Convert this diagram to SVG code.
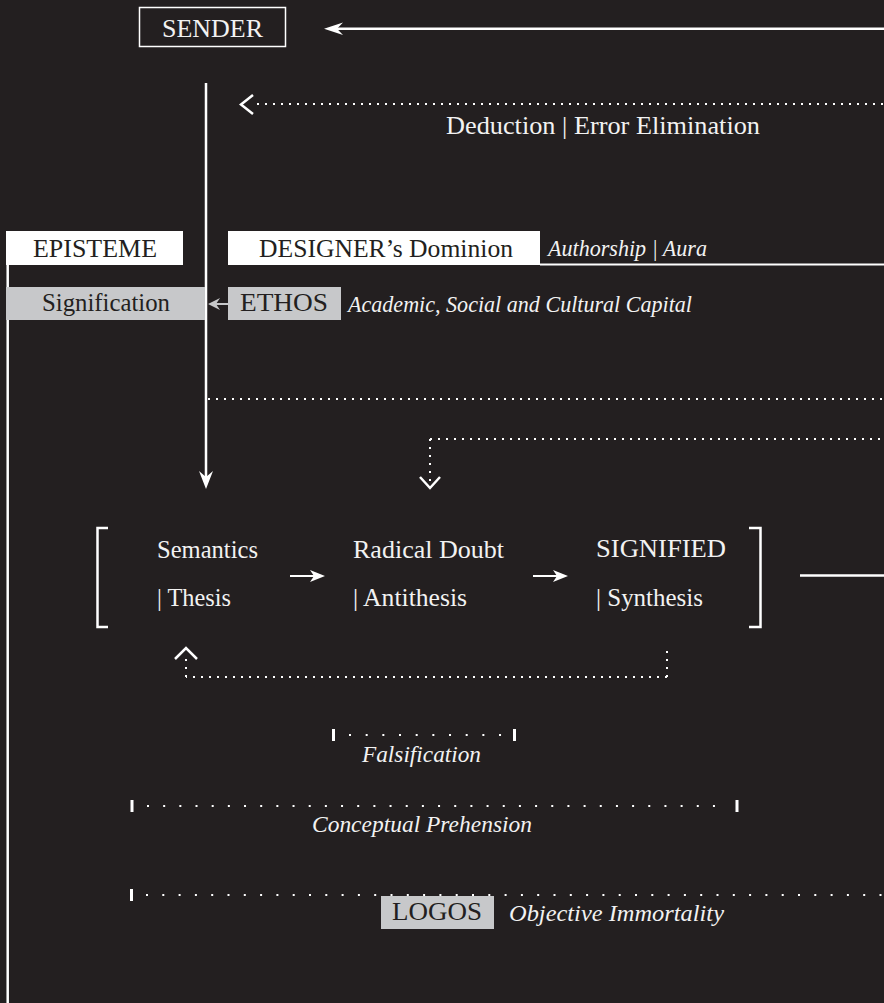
<svg xmlns="http://www.w3.org/2000/svg" width="884" height="1003" viewBox="0 0 884 1003">
<style>
text{font-family:'Liberation Serif','Times New Roman',serif;font-size:25px;fill:#f2f2f2}
text.d{fill:#231f20}
text.it{font-style:italic;font-size:24px}
.solid{stroke:#fff;stroke-width:2.5;fill:none}
.thin{stroke:#fff;stroke-width:2;fill:none}
.dot{stroke:#fff;stroke-width:2;fill:none;stroke-dasharray:2 6}
.head{fill:#fff}
.chev{stroke:#fff;stroke-width:2.5;fill:none}
.tick{fill:#fff}
.bw{fill:#fff}
.bg{fill:#c7c8ca}
</style>
<rect width="884" height="1003" fill="#231f20"/>
<g id="connectors">
  <line class="solid" x1="884" y1="28.8" x2="336" y2="28.8"/>
  <path class="head" d="M324,28.8 L343,22.5 L337,28.8 L343,35 Z"/>
  <line class="solid" x1="206" y1="83" x2="206" y2="478"/>
  <path class="head" d="M206,489 L199,471 L206,477 L213,471 Z"/>
  <path class="dot" d="M257,104 H884"/>
  <path class="chev" d="M253,95 L241,104.5 L253,114"/>
  <line class="thin" x1="540" y1="264.5" x2="884" y2="264.5"/>
  <line class="solid" x1="7.7" y1="265" x2="7.7" y2="1003"/>
  <line x1="215" y1="304" x2="228" y2="304" stroke="#c7c8ca" stroke-width="2"/>
  <path fill="#c7c8ca" d="M208,304 L220,298 L216,304 L220,310 Z"/>
  <path class="dot" d="M208,399 H884"/>
  <path class="dot" d="M430,439 H884"/>
  <path class="dot" d="M430,439 V484"/>
  <path class="chev" d="M420,477 L430,488 L440,477"/>
  <line class="thin" x1="290" y1="576" x2="314" y2="576"/>
  <path class="head" d="M325,576 L310,570 L314,576 L310,582 Z"/>
  <line class="thin" x1="533" y1="576" x2="557" y2="576"/>
  <path class="head" d="M568,576 L553,570 L557,576 L553,582 Z"/>
  <line class="solid" x1="800" y1="575.5" x2="884" y2="575.5"/>
  <path class="dot" d="M667,677 V651"/>
  <path class="dot" d="M667,677 H186"/>
  <path class="dot" d="M186,677 V656"/>
  <path class="chev" d="M175,659 L186,648 L197,659"/>
  <rect class="tick" x="332" y="729" width="3" height="12"/>
  <rect class="tick" x="513" y="729" width="3" height="12"/>
  <path class="thin" d="M349,735 H512" stroke-dasharray="2 14.67"/>
  <rect class="tick" x="130.5" y="800" width="3" height="12"/>
  <rect class="tick" x="735.5" y="800" width="3" height="12"/>
  <path class="thin" d="M147,806 H716" stroke-dasharray="2 14.17"/>
  <rect class="tick" x="130" y="889" width="3" height="12"/>
  <path class="thin" d="M146,895 H884" stroke-dasharray="2 14.3"/>
</g>
<g id="sender">
  <rect x="139.5" y="7.5" width="146" height="39" fill="none" stroke="#fff" stroke-width="1.5"/>
  <text x="162" y="37" textLength="101" lengthAdjust="spacingAndGlyphs">SENDER</text>
</g>
<g id="deduction">
  <text x="446" y="134" textLength="314" lengthAdjust="spacingAndGlyphs">Deduction | Error Elimination</text>
</g>
<g id="episteme">
  <rect class="bw" x="6" y="231" width="177" height="34"/>
  <text class="d" x="33" y="257" textLength="124" lengthAdjust="spacingAndGlyphs">EPISTEME</text>
</g>
<g id="designer">
  <rect class="bw" x="228" y="231" width="312" height="34"/>
  <text class="d" x="259" y="257" textLength="254" lengthAdjust="spacingAndGlyphs">DESIGNER’s Dominion</text>
  <text class="it" x="548" y="256" textLength="159" lengthAdjust="spacingAndGlyphs">Authorship | Aura</text>
</g>
<g id="signification">
  <rect class="bg" x="6" y="287" width="199" height="33"/>
  <text class="d" x="42" y="311" textLength="128" lengthAdjust="spacingAndGlyphs">Signification</text>
</g>
<g id="ethos">
  <rect class="bg" x="228" y="287" width="113" height="33"/>
  <text class="d" x="240" y="311" textLength="88" lengthAdjust="spacingAndGlyphs">ETHOS</text>
  <text class="it" x="348" y="312" textLength="344" lengthAdjust="spacingAndGlyphs">Academic, Social and Cultural Capital</text>
</g>
<g id="dialectic">
  <path class="solid" d="M108,528 H97.5 V627 H108"/>
  <path class="solid" d="M749,528 H760.5 V627 H749"/>
</g>
<g id="semantics">
  <text x="157" y="558" textLength="101" lengthAdjust="spacingAndGlyphs">Semantics</text>
  <text x="157" y="606" textLength="74" lengthAdjust="spacingAndGlyphs">| Thesis</text>
</g>
<g id="radical-doubt">
  <text x="353" y="558" textLength="151" lengthAdjust="spacingAndGlyphs">Radical Doubt</text>
  <text x="353" y="606" textLength="114" lengthAdjust="spacingAndGlyphs">| Antithesis</text>
</g>
<g id="signified">
  <text x="596" y="557" textLength="130" lengthAdjust="spacingAndGlyphs">SIGNIFIED</text>
  <text x="596" y="606" textLength="107" lengthAdjust="spacingAndGlyphs">| Synthesis</text>
</g>
<g id="falsification">
  <text class="it" x="362" y="762" textLength="119" lengthAdjust="spacingAndGlyphs">Falsification</text>
</g>
<g id="conceptual-prehension">
  <text class="it" x="312" y="832" textLength="220" lengthAdjust="spacingAndGlyphs">Conceptual Prehension</text>
</g>
<g id="logos">
  <rect class="bg" x="381" y="896" width="113" height="33"/>
  <text class="d" x="392" y="920" textLength="90" lengthAdjust="spacingAndGlyphs">LOGOS</text>
  <text class="it" x="509" y="921" textLength="215" lengthAdjust="spacingAndGlyphs">Objective Immortality</text>
</g>
</svg>
